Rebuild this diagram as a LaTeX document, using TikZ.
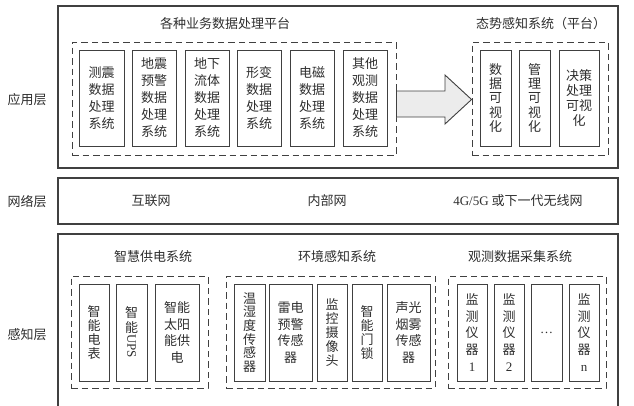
\documentclass[tikz,border=0pt]{standalone}
\usepackage{fontspec}
\usepackage{graphicx}
\setmainfont{Noto Sans CJK SC}
\newfontfamily\lat{Liberation Serif}
\definecolor{ln}{gray}{0.25}
\definecolor{tx}{gray}{0.18}
\tikzset{
  outerbox/.style={draw=ln, line width=1.1pt, inner sep=0pt},
  dashbox/.style={draw=ln, line width=0.9pt, dash pattern=on 6.5pt off 4pt, inner sep=0pt},
  ibox/.style={draw=ln, line width=0.9pt, inner sep=0pt, align=center, text=tx},
  tall/.style={ibox, minimum height=96pt},
  stall/.style={ibox, minimum height=97pt},
  ttl/.style={text=tx, inner sep=0pt, font=\fontsize{13}{15}\selectfont},
  lsA/.style={font=\fontsize{13}{17}\selectfont},
  lsB/.style={font=\fontsize{13}{14.2}\selectfont},
  lsC/.style={font=\fontsize{13}{16.7}\selectfont},
}
\begin{document}
\begin{tikzpicture}[x=1pt,y=-1pt]
\useasboundingbox (0,0) rectangle (634,405);

% ---------- application layer ----------
\node[outerbox, minimum width=560pt, minimum height=162pt] (app) at (338,87) {};
\node[ttl] (applbl) at (27,100) {应用层};
\node[ttl] (t1) at (225,24) {各种业务数据处理平台};
\node[ttl] (t2) at (541,24) {态势感知系统（平台）};
\node[dashbox, minimum width=324pt, minimum height=113pt] (dl) at (234,98.5) {};
\node[dashbox, minimum width=136pt, minimum height=113pt] (dr) at (540,98.5) {};

\node[tall, lsA, minimum width=45pt] (a1) at (101.5,98) {测震\\数据\\处理\\系统};
\node[tall, lsA, minimum width=44pt] (a2) at (154,98) {地震\\预警\\数据\\处理\\系统};
\node[tall, lsA, minimum width=44pt] (a3) at (207,98) {地下\\流体\\数据\\处理\\系统};
\node[tall, lsA, minimum width=44pt] (a4) at (259,98) {形变\\数据\\处理\\系统};
\node[tall, lsA, minimum width=44pt] (a5) at (312,98) {电磁\\数据\\处理\\系统};
\node[tall, lsA, minimum width=44pt] (a6) at (365,98) {其他\\观测\\数据\\处理\\系统};

\node[tall, lsB, minimum width=31pt] (r1) at (495.5,98) {数\\据\\可\\视\\化};
\node[tall, lsB, minimum width=31pt] (r2) at (534.5,98) {管\\理\\可\\视\\化};
\node[tall, font=\fontsize{13}{15}\selectfont, minimum width=40pt] (r3) at (579,98) {决策\\处理\\可视\\化};

% big arrow
\draw[draw=ln, line width=0.9pt, fill=gray!15, line join=miter]
  (dl.east |- 0,91) -- (445,91) -- (445,75) -- (dr.west |- 0,99.5) -- (445,124)
  -- (445,117) -- (dl.east |- 0,117) -- cycle;

% ---------- network layer ----------
\node[outerbox, minimum width=560pt, minimum height=46pt] (net) at (338,201) {};
\node[ttl] (netlbl) at (27,202) {网络层};
\node[ttl] (n1) at (151,201) {互联网};
\node[ttl] (n2) at (327,201) {内部网};
\node[ttl] (n3) at (518,201) {{\lat 4G/5G} 或下一代无线网};

% ---------- perception layer ----------
\coordinate (pbl) at (58,410);
\coordinate (ptl) at (58,234);
\coordinate (ptr) at (618,234);
\coordinate (pbr) at (618,410);
\draw[draw=ln, line width=1.1pt] (pbl) -- (ptl) -- (ptr) -- (pbr);
\node[ttl] (perlbl) at (27,335) {感知层};
\node[ttl] (p1) at (153,257) {智慧供电系统};
\node[ttl] (p2) at (337,257) {环境感知系统};
\node[ttl] (p3) at (520,257) {观测数据采集系统};

\node[dashbox, minimum width=137pt, minimum height=112pt] (d1) at (139.5,332) {};
\node[dashbox, minimum width=209pt, minimum height=112pt] (d2) at (330.5,332) {};
\node[dashbox, minimum width=158pt, minimum height=112pt] (d3) at (527,332) {};

\node[stall, lsB, minimum width=30pt] (s1) at (94,332.5) {智\\能\\电\\表};
\node[stall, lsB, minimum width=31pt] (s2) at (131.5,332.5) {智\\能\\\rotatebox[origin=c]{-90}{\lat UPS}};
\node[stall, lsC, minimum width=44pt] (s3) at (177,332.5) {智能\\太阳\\能供\\电};

\node[stall, font=\fontsize{13}{13.7}\selectfont, minimum width=31pt] (e1) at (249.5,332.5) {温\\湿\\度\\传\\感\\器};
\node[stall, lsC, minimum width=43pt] (e2) at (290.5,332.5) {雷电\\预警\\传感\\器};
\node[stall, lsB, minimum width=30pt] (e3) at (332,332.5) {监\\控\\摄\\像\\头};
\node[stall, lsB, minimum width=30pt] (e4) at (367,332.5) {智\\能\\门\\锁};
\node[stall, lsC, minimum width=43pt] (e5) at (408.5,332.5) {声光\\烟雾\\传感\\器};

\node[stall, lsC, minimum width=30pt] (m1) at (472,332.5) {监\\测\\仪\\器\\{\lat 1}};
\node[stall, lsC, minimum width=30pt] (m2) at (509,332.5) {监\\测\\仪\\器\\{\lat 2}};
\node[stall, lsC, minimum width=31pt] (m3) at (546.5,332.5) {\lat …};
\node[stall, lsC, minimum width=30pt] (m4) at (584,332.5) {监\\测\\仪\\器\\{\lat n}};
\end{tikzpicture}
\end{document}
